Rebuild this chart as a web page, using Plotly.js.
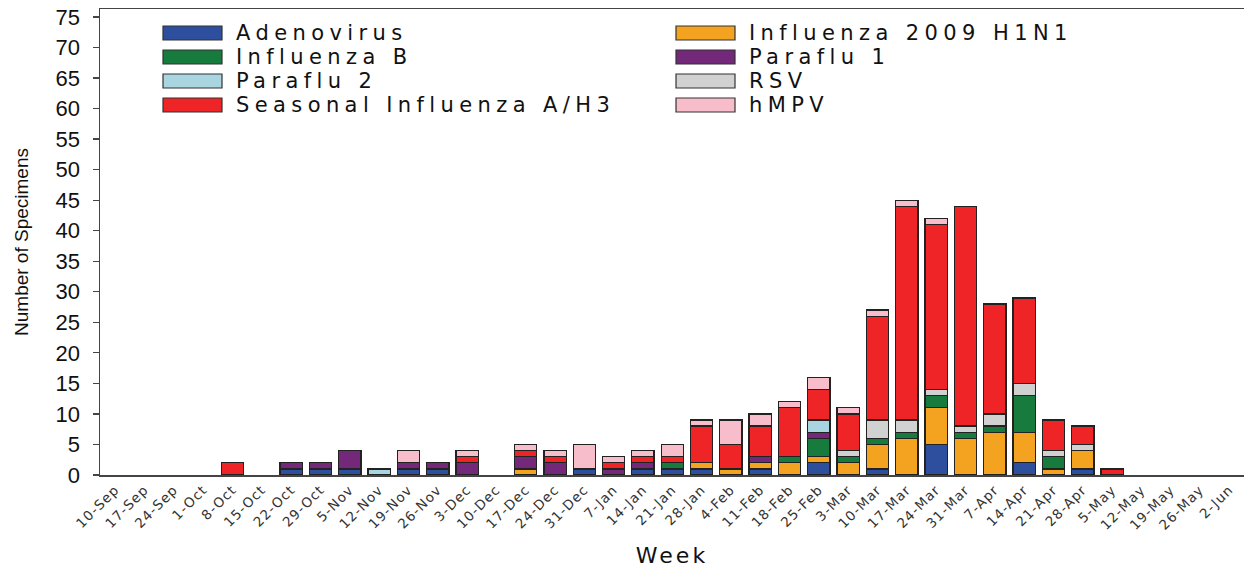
<!DOCTYPE html>
<html>
<head>
<meta charset="utf-8">
<script src="https://cdn.plot.ly/plotly-3.0.1.min.js"></script>
<style>
  html, body { margin: 0; padding: 0; background: #fff; }
  #chart { width: 1244px; height: 570px; }
  .annotation-text { letter-spacing: 5.4px; }
  .xtick text { letter-spacing: 1.1px; }
  .xtitle { letter-spacing: 3px; }
</style>
</head>
<body>
<div id="chart"></div>
<script>
const weeks = ["10-Sep","17-Sep","24-Sep","1-Oct","8-Oct","15-Oct","22-Oct","29-Oct","5-Nov","12-Nov",
  "19-Nov","26-Nov","3-Dec","10-Dec","17-Dec","24-Dec","31-Dec","7-Jan","14-Jan","21-Jan",
  "28-Jan","4-Feb","11-Feb","18-Feb","25-Feb","3-Mar","10-Mar","17-Mar","24-Mar","31-Mar",
  "7-Apr","14-Apr","21-Apr","28-Apr","5-May","12-May","19-May","26-May","2-Jun"];

const adenovirus = [0,0,0, 0,0,0,1,1, 1,0,1,1, 0,0,0,0,1, 0,1,1,1, 0,1,0,2, 0,1,0,5,0, 0,2,0,1, 0,0,0,0, 0];
const h1n1       = [0,0,0, 0,0,0,0,0, 0,0,0,0, 0,0,1,0,0, 0,0,0,1, 1,1,2,1, 2,4,6,6,6, 7,5,1,3, 0,0,0,0, 0];
const fluB       = [0,0,0, 0,0,0,0,0, 0,0,0,0, 0,0,0,0,0, 0,0,1,0, 0,0,1,3, 1,1,1,2,1, 1,6,2,0, 0,0,0,0, 0];
const paraflu1   = [0,0,0, 0,0,0,1,1, 3,0,1,1, 2,0,2,2,0, 1,1,0,0, 0,1,0,1, 0,0,0,0,0, 0,0,0,0, 0,0,0,0, 0];
const paraflu2   = [0,0,0, 0,0,0,0,0, 0,1,0,0, 0,0,0,0,0, 0,0,0,0, 0,0,0,2, 0,0,0,0,0, 0,0,0,0, 0,0,0,0, 0];
const rsv        = [0,0,0, 0,0,0,0,0, 0,0,0,0, 0,0,0,0,0, 0,0,0,0, 0,0,0,0, 1,3,2,1,1, 2,2,1,1, 0,0,0,0, 0];
const h3         = [0,0,0, 0,2,0,0,0, 0,0,0,0, 1,0,1,1,0, 1,1,1,6, 4,5,8,5, 6,17,35,27,36, 18,14,5,3, 1,0,0,0, 0];
const hmpv       = [0,0,0, 0,0,0,0,0, 0,0,2,0, 1,0,1,1,4, 1,1,2,1, 4,2,1,2, 1,1,1,1,0, 0,0,0,0, 0,0,0,0, 0];

const seriesNames = ["Adenovirus","Influenza 2009 H1N1","Influenza B","Paraflu 1","Paraflu 2","RSV","Seasonal Influenza A/H3","hMPV"];
const seriesValues = [adenovirus, h1n1, fluB, paraflu1, paraflu2, rsv, h3, hmpv];
const seriesColors = ["#2E4E9E","#F4A321","#167B3D","#74287A","#A9D5E1","#D1D1D1","#EE2426","#F8BDCB"];

const yTicks = [0,5,10,15,20,25,30,35,40,45,50,55,60,65,70,75];

const traces = seriesNames.map((name, i) => ({
  type: "bar",
  name: name,
  x: weeks,
  y: seriesValues[i].map(v => (v === 0 ? null : v)),
  width: 0.76,
  marker: { color: seriesColors[i], line: { color: "#222", width: 1.3 } },
  showlegend: false,
  hoverinfo: "x+y+name"
}));

// plot area in pixels: left 100, right 1244, top 9, bottom 475
const L = 100, R = 1244, T = 9, B = 475;
const px = x => (x - L) / (R - L);
const py = y => (B - y) / (B - T);

const shapes = [];
const annotations = [];
seriesNames.forEach((name, i) => {
  const col = i % 2, row = Math.floor(i / 2);
  const sx = col === 0 ? 163 : 676;
  const cy = 33 + row * 24;
  shapes.push({
    type: "rect", xref: "paper", yref: "paper",
    x0: px(sx), x1: px(sx + 59), y0: py(cy + 7), y1: py(cy - 7),
    fillcolor: seriesColors[i], line: { color: "#333", width: 1.2 }
  });
  annotations.push({
    xref: "paper", yref: "paper", x: px(sx + 71), y: py(cy),
    xanchor: "left", yanchor: "middle", showarrow: false,
    text: name,
    font: { family: "DejaVu Sans", size: 21, color: "#111" }
  });
});

const layout = {
  width: 1244, height: 570,
  margin: { l: L, r: 1244 - R, t: T, b: 570 - B },
  paper_bgcolor: "#fff", plot_bgcolor: "#fff",
  barmode: "stack",
  xaxis: {
    type: "category",
    range: [-0.52, 38.5],
    showline: true, linecolor: "#444", linewidth: 1.5, mirror: true,
    ticks: "", showgrid: false, zeroline: false,
    tickangle: -45,
    tickfont: { family: "DejaVu Sans", size: 13.5, color: "#333" },
    title: { text: "Week", font: { family: "DejaVu Sans", size: 22, color: "#111" }, standoff: 16 },
    automargin: false
  },
  yaxis: {
    range: [0, 76.3],
    tickvals: yTicks,
    ticktext: yTicks.map(String),
    showline: true, linecolor: "#444", linewidth: 1.5,
    ticks: "outside", ticklen: 6, tickcolor: "#444", tickwidth: 1.2,
    ticklabelstandoff: 8,
    showgrid: false, zeroline: false,
    tickfont: { family: "Liberation Sans", size: 22, color: "#111" },
    title: { text: "Number of Specimens", font: { family: "Liberation Sans", size: 19, color: "#111" }, standoff: 22 },
    automargin: false
  },
  shapes: shapes,
  annotations: annotations
};

Plotly.newPlot("chart", traces, layout, { displayModeBar: false, staticPlot: true });
</script>
</body>
</html>
